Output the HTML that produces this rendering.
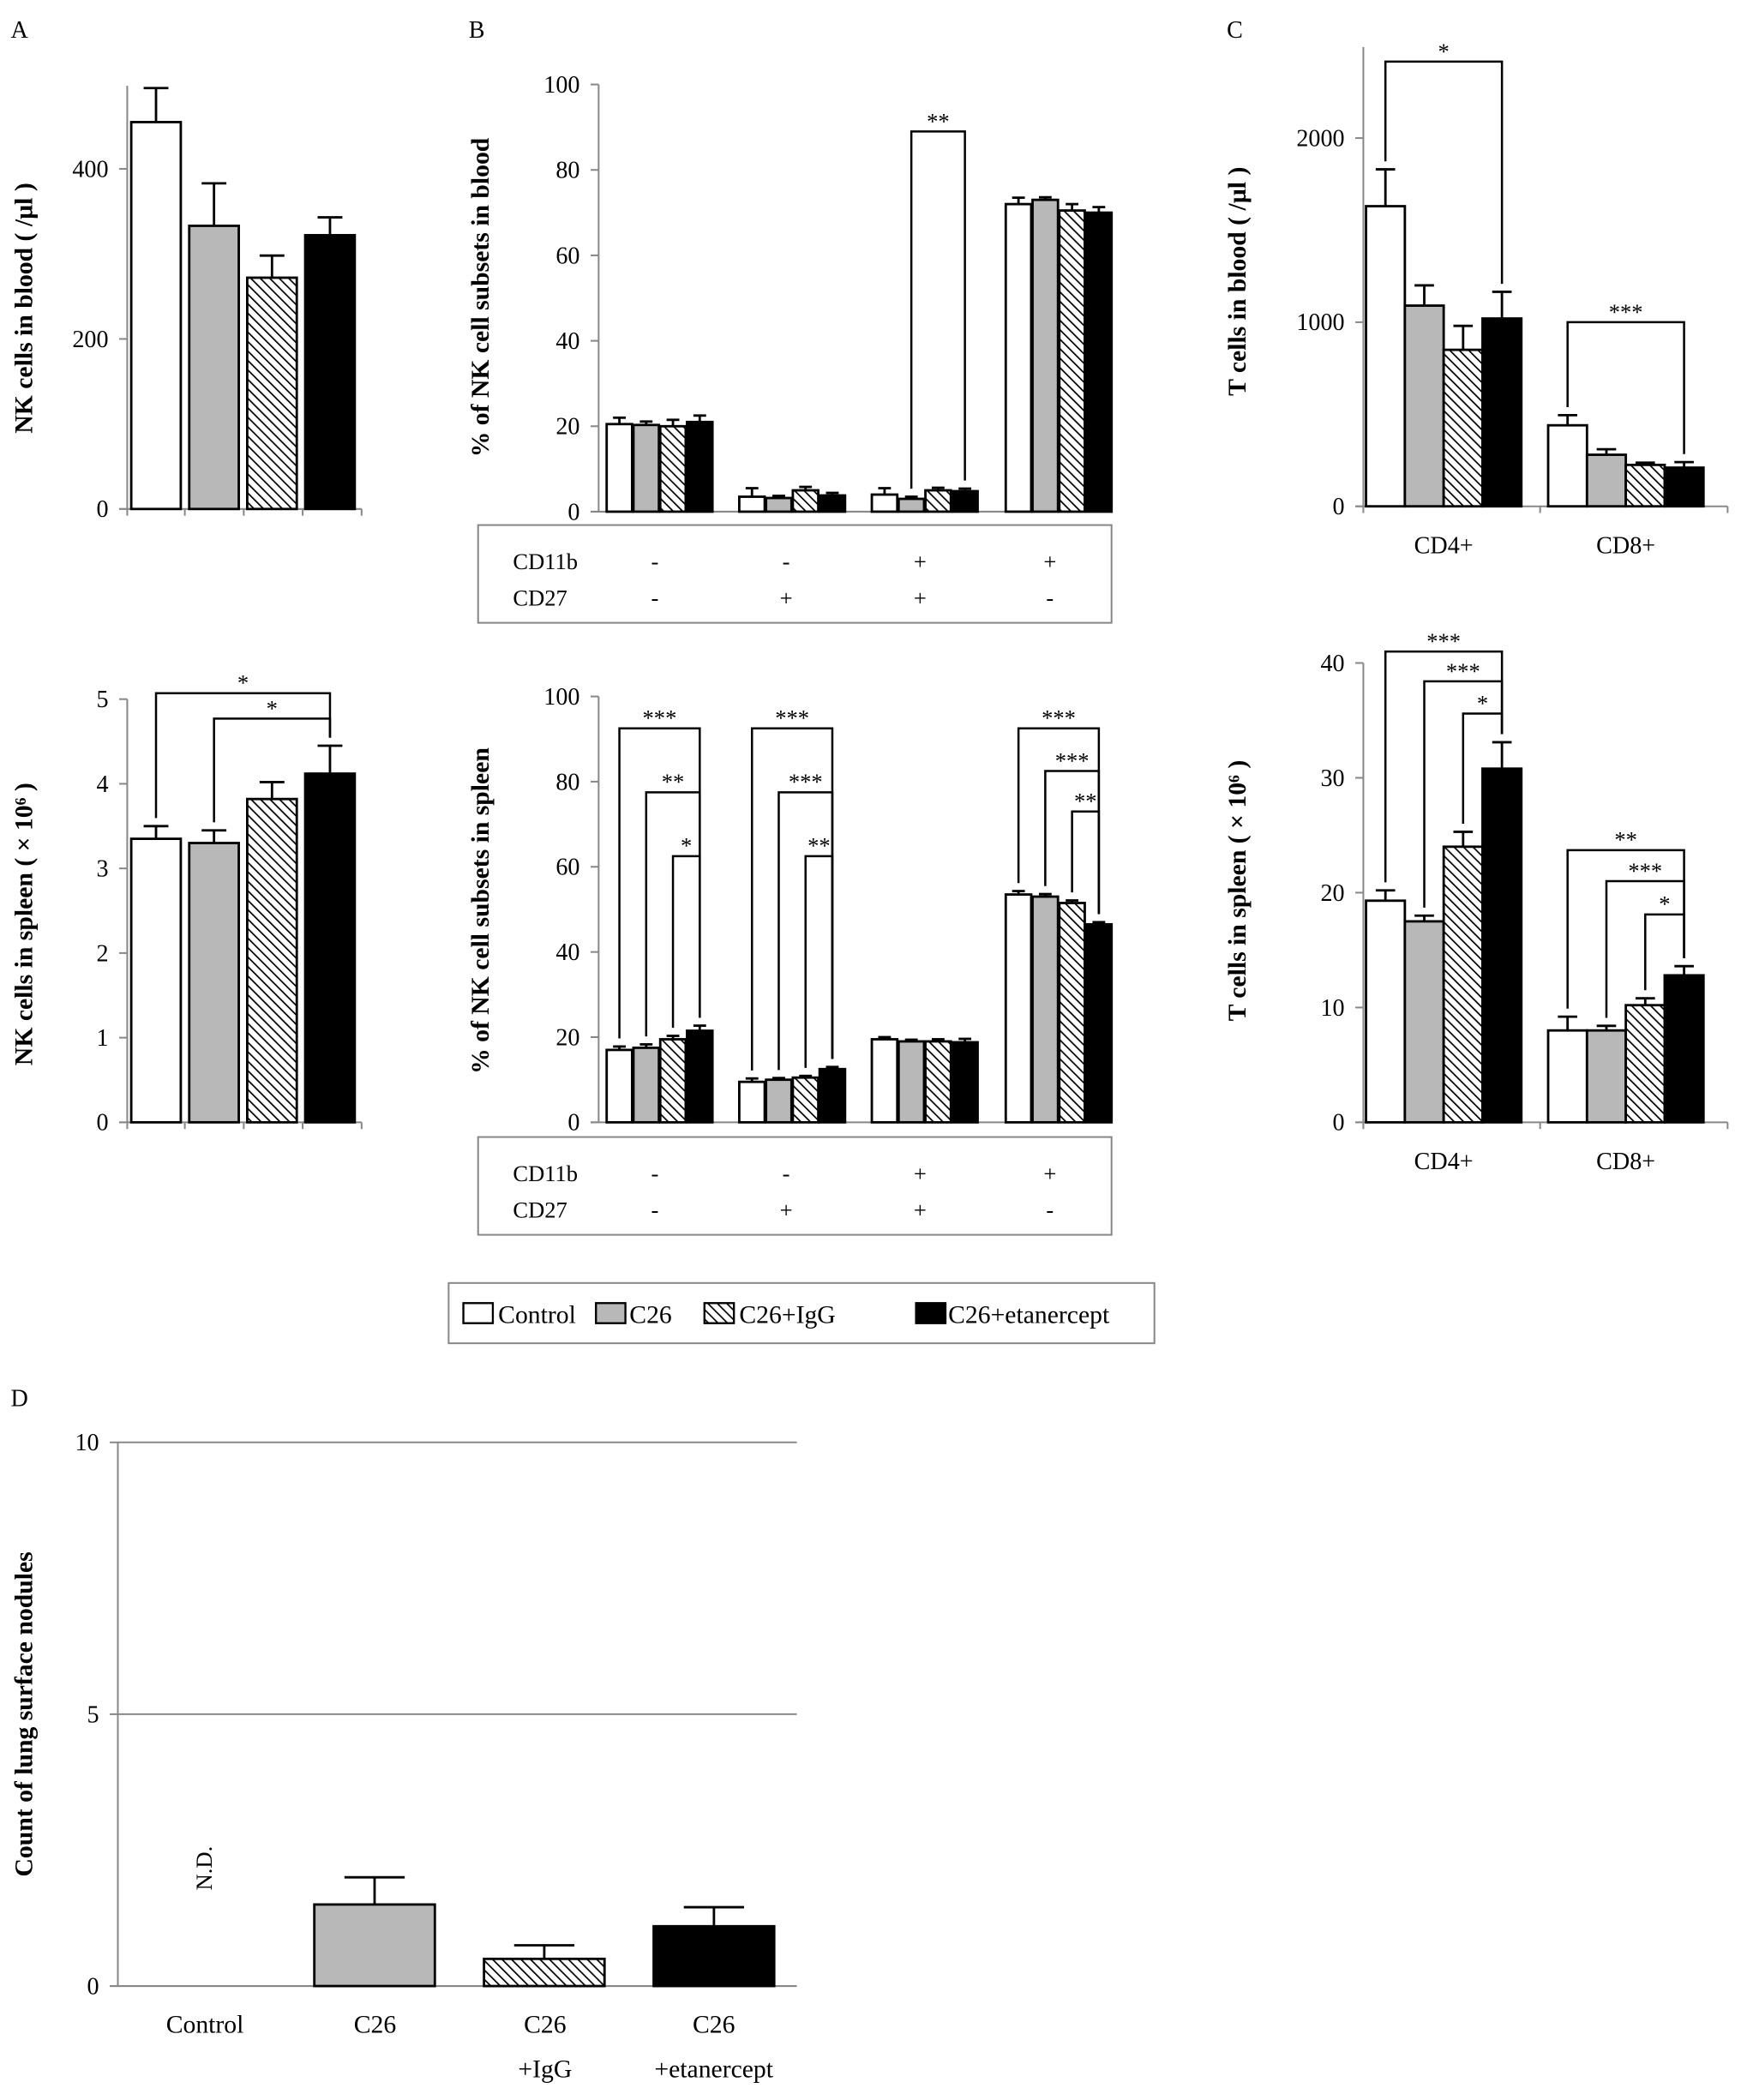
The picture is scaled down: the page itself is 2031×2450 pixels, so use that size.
<!DOCTYPE html>
<html><head><meta charset="utf-8">
<style>
html,body{margin:0;padding:0;background:#fff;}
svg{display:block;font-family:"Liberation Serif",serif;}
</style></head>
<body>
<svg id="fig" width="2031" height="2450" viewBox="0 0 1300 1568" xmlns="http://www.w3.org/2000/svg">
<defs>
<pattern id="hatch" patternUnits="userSpaceOnUse" width="5" height="5" patternTransform="rotate(-45)">
<rect width="5" height="5" fill="#fff"/>
<line x1="0" y1="0" x2="0" y2="5" stroke="#000" stroke-width="2.2"/>
</pattern>
</defs>
</svg>
<script>
const groups=['Control','C26','C26+IgG','C26+etanercept'];
const fills=['#fff','#b8b8b8','url(#hatch)','#000'];
// Panel A
const aBloodVals=[455,333,272,322];
const aBloodErr=[40,50,26,21];
const aBloodTicks=[0,200,400];
const aSpleenVals=[3.35,3.3,3.82,4.12];
const aSpleenErr=[0.15,0.15,0.2,0.33];
const aSpleenTicks=[0,1,2,3,4,5];
// Panel B
const subsets=['CD11b-CD27-','CD11b-CD27+','CD11b+CD27+','CD11b+CD27-'];
const cd11bSigns=['-','-','+','+'];
const cd27Signs=['-','+','+','-'];
const bBloodVals=[[20.5,20.3,20,21],[3.5,3.2,5,3.8],[4,3,5,4.8],[72,73,70.5,70]];
const bBloodErr=[[1.5,0.8,1.5,1.5],[2,0.5,0.8,0.6],[1.5,0.5,0.6,0.6],[1.5,0.6,1.5,1.3]];
const bSpleenVals=[[17,17.5,19.5,21.5],[9.5,10,10.5,12.5],[19.5,19,19,18.8],[53.5,53,51.5,46.5]];
const bSpleenErr=[[0.8,0.8,0.8,1.2],[0.8,0.4,0.4,0.5],[0.5,0.4,0.5,0.8],[0.8,0.6,0.6,0.5]];
const bTicks=[0,20,40,60,80,100];
// Panel C
const tSubsets=['CD4+','CD8+'];
const cBloodVals=[[1630,1090,850,1020],[440,280,225,210]];
const cBloodErr=[[200,110,130,145],[55,30,12,30]];
const cBloodTicks=[0,1000,2000];
const cSpleenVals=[[19.3,17.5,24,30.8],[8,8,10.2,12.8]];
const cSpleenErr=[[0.9,0.5,1.3,2.3],[1.2,0.4,0.6,0.8]];
const cSpleenTicks=[0,10,20,30,40];
// Panel D
const dLabels=[['Control'],['C26'],['C26','+IgG'],['C26','+etanercept']];
const dVals=[null,1.5,0.5,1.1];
const dErr=[0,0.5,0.25,0.35];
const dTicks=[0,5,10];

const NS="http://www.w3.org/2000/svg";
const svg=document.getElementById('fig');
function mk(tag,attrs,parent){const e=document.createElementNS(NS,tag);for(const k in attrs)e.setAttribute(k,attrs[k]);(parent||svg).appendChild(e);return e;}
function txt(x,y,s,size,parent,extra){const t=mk('text',Object.assign({x:x,y:y,'font-size':size,'text-anchor':'middle',fill:'#000'},extra||{}),parent);t.textContent=s;return t;}

function chart(o){
  const g=mk('g',{});
  
  
  const sy=v=>o.y0-(v-o.min)/(o.max-o.min)*(o.y0-o.yTop);
  o.sy=sy;
  const ax=mk('line',{x1:o.ax,y1:sy(o.max)-(o.extra||0),x2:o.ax,y2:o.y0,stroke:'#888','stroke-width':1.3},g);
  
  
  o.ticks.forEach(t=>{
    const tl=mk('line',{x1:o.ax-6,y1:sy(t),x2:o.ax,y2:sy(t),stroke:'#888','stroke-width':1.3},g);
    
    
    if(o.grid&&t>0){const gl=mk('line',{x1:o.ax,y1:sy(t),x2:o.xEnd,y2:sy(t),stroke:'#888','stroke-width':1.3},g);
      
      }
    const lb=txt(o.ax-14,sy(t)+6,String(t),18,g,{'text-anchor':'end'});
    
    
  });
  const xl=mk('line',{x1:o.ax-6,y1:o.y0,x2:o.xEnd,y2:o.y0,stroke:'#888','stroke-width':1.3},g);
  
  
  (o.xTicks||[]).forEach(x=>{const t=mk('line',{x1:x,y1:o.y0,x2:x,y2:o.y0+5,stroke:'#888','stroke-width':1.3},g);
    
    });
  const yl=txt(0,0,o.ylabel,19,g,{'font-weight':'bold',transform:`translate(${o.ylx},${o.yly}) rotate(-90)`});
  
  
  o.pos=[];
  o.vals.forEach((grp,gi)=>{
    o.pos.push([]);
    grp.forEach((v,i)=>{
      const x=o.gx[gi]+i*(o.bw+o.gap);
      o.pos[gi].push(x+o.bw/2);
      if(v===null)return;
      const r=mk('rect',{x:x,y:sy(v),width:o.bw,height:o.y0-sy(v),fill:fills[i],stroke:'#000','stroke-width':1.8},g);
      
      
      const e=o.errs[gi][i];
      if(e>0){
        const el=mk('line',{x1:x+o.bw/2,y1:sy(v),x2:x+o.bw/2,y2:sy(v+e),stroke:'#000','stroke-width':1.8},g);
        
        
        const cap=mk('line',{x1:x+o.bw/2-o.bw/4,y1:sy(v+e),x2:x+o.bw/2+o.bw/4,y2:sy(v+e),stroke:'#000','stroke-width':1.8},g);
        
        
      }
    });
  });
  o.g=g;
  return o;
}
function bracket(o,gi,i1,i2,level,label){
  const x1=o.pos[gi][i1],x2=o.pos[gi][i2];
  const yb1=o.sy(o.vals[gi][i1]+o.errs[gi][i1])-6, yb2=o.sy(o.vals[gi][i2]+o.errs[gi][i2])-6;
  const y=o.sy(level);
  const p=mk('path',{d:`M${x1},${yb1} V${y} H${x2} V${yb2}`,fill:'none',stroke:'#000','stroke-width':1.6},o.g);
  
  
  const t=txt((x1+x2)/2,y-2,label,17,o.g);
  
  
}
function letter(x,y,s){const t=txt(x,y,s,18,svg,{'text-anchor':'start'});
  
  }

letter(8,28,'A');letter(350,28,'B');letter(916,28,'C');letter(8,1050,'D');

chart({name:'nk-blood-chart',ax:95,y0:380,yTop:126,min:0,max:400,extra:62,ticks:aBloodTicks,xEnd:270,
  xTicks:[95,138,182,226,270],gx:[98],bw:37,gap:6.3,vals:[aBloodVals],errs:[aBloodErr],
  ylabel:'NK cells in blood ( /µl )',ylx:24,yly:230});
const aS=chart({name:'nk-spleen-chart',ax:95,y0:838,yTop:522,min:0,max:5,ticks:aSpleenTicks,xEnd:270,
  xTicks:[95,138,182,226,270],gx:[98],bw:37,gap:6.3,vals:[aSpleenVals],errs:[aSpleenErr],
  ylabel:'NK cells in spleen ( × 10⁶ )',ylx:24,yly:690});
bracket(aS,0,0,3,5.07,'*');
bracket(aS,0,1,3,4.77,'*');

const bB=chart({name:'nk-subsets-blood-chart',ax:447,y0:382,yTop:63,min:0,max:100,ticks:bTicks,xEnd:830,
  xTicks:[],gx:[453,552,651,751],bw:19,gap:1,vals:bBloodVals,errs:bBloodErr,
  ylabel:'% of NK cell subsets in blood',ylx:365,yly:222});
bracket(bB,2,1,3,89,'**');
const bS=chart({name:'nk-subsets-spleen-chart',ax:447,y0:838,yTop:520,min:0,max:100,ticks:bTicks,xEnd:830,
  xTicks:[],gx:[453,552,651,751],bw:19,gap:1,vals:bSpleenVals,errs:bSpleenErr,
  ylabel:'% of NK cell subsets in spleen',ylx:365,yly:680});
bracket(bS,0,0,3,92.5,'***');bracket(bS,0,1,3,77.5,'**');bracket(bS,0,2,3,62.5,'*');
bracket(bS,1,0,3,92.5,'***');bracket(bS,1,1,3,77.5,'***');bracket(bS,1,2,3,62.5,'**');
bracket(bS,3,0,3,92.5,'***');bracket(bS,3,1,3,82.5,'***');bracket(bS,3,2,3,73,'**');

function table(y,name){
  const g=mk('g',{});
  
  
  mk('rect',{x:357,y:y,width:473,height:73,fill:'#fff',stroke:'#888','stroke-width':1.3},g);
  const a=txt(383,y+33,'CD11b',17,g,{'text-anchor':'start'});
  
  
  const b=txt(383,y+60,'CD27',17,g,{'text-anchor':'start'});
  
  
  const xs=[489,587,687,784];
  cd11bSigns.forEach((s,i)=>{const t=txt(xs[i],y+33,s,17,g);
    
    });
  cd27Signs.forEach((s,i)=>{const t=txt(xs[i],y+60,s,17,g);
    
    });
}
table(392,'blood-subset-table');table(849,'spleen-subset-table');

const cB=chart({name:'t-blood-chart',ax:1018,y0:378,yTop:103,min:0,max:2000,extra:68,ticks:cBloodTicks,xEnd:1290,
  xTicks:[1018,1150,1290],gx:[1020,1156],bw:29,gap:0,vals:cBloodVals,errs:cBloodErr,
  ylabel:'T cells in blood ( /µl )',ylx:930,yly:210});
bracket(cB,0,0,3,2415,'*');
bracket(cB,1,0,3,1000,'***');
const cS=chart({name:'t-spleen-chart',ax:1018,y0:838,yTop:495,min:0,max:40,ticks:cSpleenTicks,xEnd:1290,
  xTicks:[1018,1150,1290],gx:[1020,1156],bw:29,gap:0,vals:cSpleenVals,errs:cSpleenErr,
  ylabel:'T cells in spleen ( × 10⁶ )',ylx:930,yly:665});
bracket(cS,0,0,3,41,'***');bracket(cS,0,1,3,38.4,'***');bracket(cS,0,2,3,35.6,'*');
bracket(cS,1,0,3,23.7,'**');bracket(cS,1,1,3,21,'***');bracket(cS,1,2,3,18.1,'*');
[[1078,413],[1214,413],[1078,873],[1214,873]].forEach((p,i)=>{
  const t=txt(p[0],p[1],tSubsets[i%2],18);
  
  
});

const lg=mk('g',{});


mk('rect',{x:335,y:958,width:527,height:45,fill:'#fff',stroke:'#888','stroke-width':1.3},lg);
[[346,372],[445,470],[526,552],[684,708]].forEach((p,i)=>{
  const sw=mk('rect',{x:p[0],y:973,width:22,height:15,fill:fills[i],stroke:'#000','stroke-width':1.5},lg);
  
  
  const t=txt(p[1],988,groups[i],19,lg,{'text-anchor':'start'});
  
  
});

const dPos=[153,280,407,533];
const dC=chart({name:'lung-nodules-chart',ax:88,y0:1483,yTop:1077,min:0,max:10,ticks:dTicks,xEnd:595,grid:true,
  xTicks:[],gx:[108],bw:90,gap:36.7,vals:[dVals],errs:[dErr],
  ylabel:'Count of lung surface nodules',ylx:24,yly:1280});
const nd=txt(0,0,'N.D.',17,svg,{transform:'translate(158,1395) rotate(-90)'});


dLabels.forEach((ls,i)=>ls.forEach((s,j)=>{
  const t=txt(dPos[i],1518+j*33,s,19);
  
  
}));
</script>
</body></html>
